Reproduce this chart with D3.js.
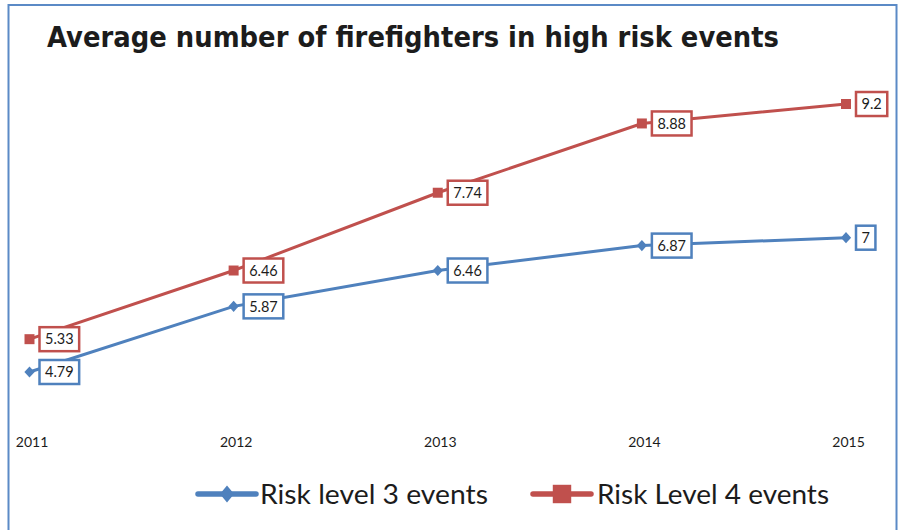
<!DOCTYPE html>
<html>
<head>
<meta charset="utf-8">
<script src="https://cdn.jsdelivr.net/npm/d3@7"></script>
<style>
  html, body { margin: 0; padding: 0; background: #fff; }
  svg { display: block; }
</style>
</head>
<body>
<div id="chart"></div>
<script>
// chart values
var years = ["2011", "2012", "2013", "2014", "2015"];
var risk3 = [4.79, 5.87, 6.46, 6.87, 7];
var risk4 = [5.33, 6.46, 7.74, 8.88, 9.2];
var seriesNames = ["Risk level 3 events", "Risk Level 4 events"];
var titleText = "Average number of firefighters in high risk events";

var svgWidth = 899;
var svgHeight = 530;

var blue = "#4F81BD";
var red = "#C0504D";

var svg = d3.select("#chart")
    .append("svg")
    .attr("width", svgWidth)
    .attr("height", svgHeight);

// outer frame of the chart
svg.append("rect")
    .attr("x", 8.5)
    .attr("y", 5)
    .attr("width", 888)
    .attr("height", 540)
    .attr("fill", "none")
    .attr("stroke", "#5B8AC6")
    .attr("stroke-width", 2);

// title
svg.append("text")
    .attr("x", 47)
    .attr("y", 47)
    .attr("font-family", "'DejaVu Sans', sans-serif")
    .attr("font-weight", "bold")
    .attr("font-size", 29)
    .attr("fill", "#1c1c1c")
    .attr("textLength", 732)
    .attr("lengthAdjust", "spacingAndGlyphs")
    .text(titleText);

// scales
var x = d3.scalePoint().domain(years).range([29.5, 846]);
var y = d3.scaleLinear().domain([4, 10]).range([420, 55.4]);

// x axis labels only, no line
var xAxis = svg.append("g")
    .attr("transform", "translate(0, 437)")
    .call(d3.axisBottom(x).tickSize(0).tickPadding(0));
xAxis.select(".domain").remove();
xAxis.selectAll("text")
    .attr("font-family", "Lato, sans-serif")
    .attr("font-size", 14)
    .attr("fill", "#1c1c1c")
    .attr("dy", "0.71em")
    .attr("dx", 2);

var series = [
    { name: seriesNames[0], values: risk3, color: blue, diamond: true },
    { name: seriesNames[1], values: risk4, color: red, diamond: false }
];

// diamond = square turned 45 degrees, a little taller than wide
function markerTransform(s, px, py, k) {
    if (s.diamond) {
        return "translate(" + px + "," + py + ") scale(1," + k + ") rotate(45)";
    }
    return "translate(" + px + "," + py + ")";
}

var line = d3.line()
    .x(function(d, i) { return x(years[i]); })
    .y(function(d) { return y(d); });

series.forEach(function(s) {
    svg.append("path")
        .datum(s.values)
        .attr("d", line)
        .attr("fill", "none")
        .attr("stroke", s.color)
        .attr("stroke-width", 3);

    svg.selectAll(null)
        .data(s.values)
        .enter()
        .append("path")
        .attr("transform", function(d, i) {
            return markerTransform(s, x(years[i]), y(d), 1.1);
        })
        .attr("d", d3.symbol().type(d3.symbolSquare).size(s.diamond ? 52 : 100))
        .attr("fill", s.color);

    // value boxes to the right of each point
    var labels = svg.selectAll(null)
        .data(s.values)
        .enter()
        .append("g")
        .attr("transform", function(d, i) {
            return "translate(" + (x(years[i]) + 10) + "," + y(d) + ")";
        });

    labels.each(function(d) {
        var g = d3.select(this);
        var rect = g.append("rect");
        var t = g.append("text")
            .attr("x", 5.5)
            .attr("y", 0)
            .attr("dy", "0.36em")
            .attr("font-family", "Lato, sans-serif")
            .attr("font-size", 14.5)
            .attr("fill", "#1c1c1c")
            .text(d);
        var w = t.node().getComputedTextLength();
        rect.attr("x", 0)
            .attr("y", -12)
            .attr("width", w + 11)
            .attr("height", 24)
            .attr("fill", "#fff")
            .attr("stroke", s.color)
            .attr("stroke-width", 2.5);
    });
});

// legend
var legendItems = [
    { x0: 198, x1: 256, tx: 260, tw: 228 },
    { x0: 533, x1: 591, tx: 597, tw: 232 }
];

series.forEach(function(s, i) {
    var it = legendItems[i];
    var lg = svg.append("g");
    lg.append("line")
        .attr("x1", it.x0)
        .attr("x2", it.x1)
        .attr("y1", 494)
        .attr("y2", 494)
        .attr("stroke", s.color)
        .attr("stroke-width", 5.5)
        .attr("stroke-linecap", "round");
    var cx = (it.x0 + it.x1) / 2;
    lg.append("path")
        .attr("transform", markerTransform(s, cx, 494, 1.2))
        .attr("d", d3.symbol().type(d3.symbolSquare).size(s.diamond ? 100 : 340))
        .attr("fill", s.color);
    lg.append("text")
        .attr("x", it.tx)
        .attr("y", 504)
        .attr("font-family", "Lato, sans-serif")
        .attr("font-size", 27)
        .attr("fill", "#1c1c1c")
        .attr("textLength", it.tw)
        .attr("lengthAdjust", "spacingAndGlyphs")
        .text(s.name);
});
</script>
</body>
</html>
